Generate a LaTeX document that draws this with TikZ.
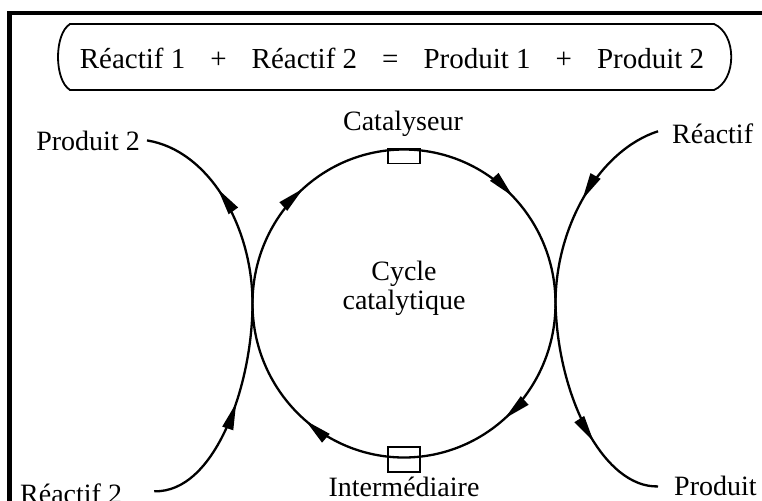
\documentclass[tikz,border=0pt]{standalone}
\usepackage{fontspec}
\setmainfont{Liberation Serif}
\usetikzlibrary{arrows.meta,decorations.markings}
\tikzset{
  headtip/.tip={Triangle[length=27pt,width=11pt]},
}
\begin{document}
\begin{tikzpicture}[x=1pt,y=-1pt,
  lbl/.style={font=\fontsize{28}{29}\selectfont, inner sep=0pt},
  flow/.style={line width=2.3pt},
  midarrow/.style={postaction={decorate,decoration={markings,
    mark=at position #1 with {\arrow{headtip}}}}},
  sitebox/.style={draw, line width=1.7pt, minimum width=32pt, inner sep=0pt},
]
\useasboundingbox (0,0) rectangle (762,500);

% outer frame (left and top edges)
\draw[line width=4.5pt] (9.5,510) -- (9.5,13) -- (770,13);

% overall reaction
\draw[line width=1.8pt] (70,24) -- (714,24)
  .. controls (737,34) and (737,80) .. (714,90) -- (70,90)
  .. controls (54,80) and (54,34) .. (70,24) -- cycle;
\node[lbl, font=\fontsize{29}{30}\selectfont] (eq) at (392,58)
  {R\'eactif 1\hspace{25pt}+\hspace{25pt}R\'eactif 2\hspace{25pt}=\hspace{25pt}Produit 1\hspace{25pt}+\hspace{25pt}Produit 2};

% catalytic cycle, clockwise
\draw[flow,
  postaction={decorate,decoration={markings,
    mark=at position 0.127 with {\arrow{headtip}},
    mark=at position 0.385 with {\arrow{headtip}},
    mark=at position 0.612 with {\arrow{headtip}},
    mark=at position 0.885 with {\arrow{headtip}}}}]
  (404,149.5) arc[start angle=-90, end angle=270, x radius=151.5, y radius=154];

\coordinate (tl) at (252.5,303.5);
\coordinate (tr) at (555.5,303.5);

% catalyst and intermediate sites
\node[sitebox, minimum height=15pt] (cat) at (404,156) {};
\node[sitebox, minimum height=25pt] (inter) at (404,459.5) {};
\node[lbl, anchor=base] (catlbl) at (403,131) {Catalyseur};
\node[lbl, anchor=base] (interlbl) at (404,496) {Interm\'ediaire};
\node[lbl, align=center] (cycle) at (404,288) {Cycle\\[0pt]catalytique};

% external species
\node[lbl, anchor=base east] (prod2) at (140,150) {Produit 2};
\node[lbl, anchor=base west] (reac) at (672,143) {R\'eactif};
\node[lbl, anchor=base west] (reac2) at (20,503) {R\'eactif 2};
\node[lbl, anchor=base west] (prod) at (674,495) {Produit};

\coordinate (p2end) at ([xshift=7pt]prod2.east);
\coordinate (r2end) at ([xshift=32pt,yshift=2pt]reac2.east);
\coordinate (rend) at ([xshift=-14pt,yshift=2pt]reac.west);
\coordinate (pend) at ([xshift=-16pt,yshift=-1pt]prod.west);

\draw[flow, midarrow=0.58] (tl) .. controls (252.5,225) and (208,150) .. (p2end);
\draw[flow, midarrow=0.56] (r2end) .. controls (215,493) and (252.5,385) .. (tl);
\draw[flow, midarrow=0.49] (rend) .. controls (600,150) and (555.5,225) .. (tr);
\draw[flow, midarrow=0.64] (tr) .. controls (558,400) and (605,488) .. (pend);
\end{tikzpicture}
\end{document}
